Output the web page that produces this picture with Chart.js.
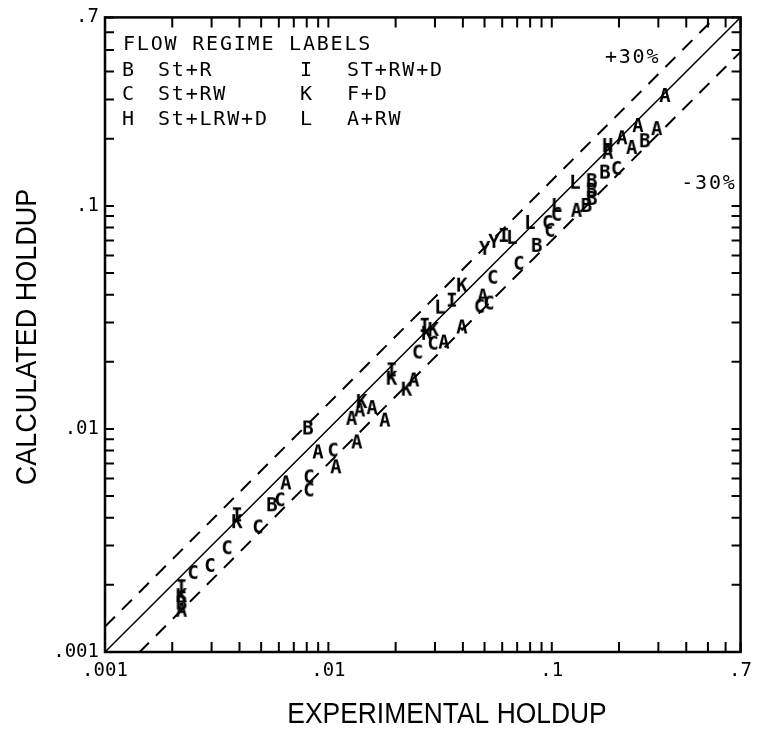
<!DOCTYPE html>
<html>
<head>
<meta charset="utf-8">
<script src="https://cdn.jsdelivr.net/npm/chart.js@4"></script>
<style>
  html, body { margin: 0; padding: 0; background: #fff; }
  #wrap { width: 760px; height: 734px; }
</style>
</head>
<body>
<div id="wrap"><canvas id="holdup"></canvas></div>
<script>
// measured holdup vs. model holdup, one series per flow-regime letter
const aX = [0.0022, 0.00645, 0.00898, 0.0108, 0.0134, 0.0127, 0.0138, 0.0157, 0.0179, 0.0241, 0.0329, 0.0396, 0.0491, 0.129, 0.178, 0.206, 0.228, 0.243, 0.295, 0.321];
const aY = [0.00153, 0.0057, 0.00785, 0.00673, 0.0087, 0.0111, 0.0121, 0.0124, 0.0109, 0.0165, 0.0244, 0.0285, 0.0392, 0.095, 0.173, 0.201, 0.182, 0.228, 0.221, 0.311];

const bX = [0.0022, 0.00559, 0.0081, 0.0857, 0.143, 0.151, 0.151, 0.151, 0.173, 0.261];
const bY = [0.00165, 0.00455, 0.01005, 0.0662, 0.100, 0.129, 0.117, 0.1075, 0.141, 0.195];

const cX = [0.00248, 0.00295, 0.00352, 0.00484, 0.00607, 0.00818, 0.00818, 0.0105, 0.0251, 0.0294, 0.0475, 0.0523, 0.0544, 0.0712, 0.098, 0.0959, 0.105, 0.195];
const cY = [0.00226, 0.00243, 0.00292, 0.00362, 0.00479, 0.00607, 0.0053, 0.0080, 0.0220, 0.0241, 0.0353, 0.0365, 0.0476, 0.0550, 0.0773, 0.0839, 0.0912, 0.1465];

const hX = [0.178];
const hY = [0.1855];

const iX = [0.0022, 0.0039, 0.0192, 0.027, 0.0357, 0.061];
const iY = [0.00195, 0.0041, 0.0183, 0.029, 0.0376, 0.0734];

const kX = [0.0022, 0.0039, 0.0141, 0.0192, 0.0224, 0.0276, 0.0295, 0.0396];
const kY = [0.00178, 0.00382, 0.0132, 0.0168, 0.0150, 0.0267, 0.0278, 0.0439];

const lX = [0.0316, 0.0662, 0.0798, 0.105, 0.127];
const lY = [0.035, 0.0719, 0.0839, 0.100, 0.127];

const yX = [0.0501, 0.0551];
const yY = [0.0642, 0.069];

// parity line and the +/-30% band
const lineX = [0.001, 0.7];
const bandUp = 1.3;
const bandDown = 0.7;

const tickValues = [
  0.001, 0.002, 0.003, 0.004, 0.005, 0.006, 0.007, 0.008, 0.009,
  0.01, 0.02, 0.03, 0.04, 0.05, 0.06, 0.07, 0.08, 0.09,
  0.1, 0.2, 0.3, 0.4, 0.5, 0.6, 0.7
];
const tickLabels = { 0.001: '.001', 0.01: '.01', 0.1: '.1', 0.7: '.7' };

const xTitle = 'EXPERIMENTAL HOLDUP';
const yTitle = 'CALCULATED HOLDUP';

const legendTitle = 'FLOW REGIME LABELS';
const legendRows = [
  ['B', 'St+R', 'I', 'ST+RW+D'],
  ['C', 'St+RW', 'K', 'F+D'],
  ['H', 'St+LRW+D', 'L', 'A+RW']
];

const monoFont = "'DejaVu Sans Mono', monospace";
const titleFont = "'Liberation Sans', sans-serif";

function letterMark(ch) {
  const c = document.createElement('canvas');
  c.width = 18;
  c.height = 22;
  const g = c.getContext('2d');
  g.font = 'bold 19px ' + monoFont;
  g.fillStyle = '#000';
  g.textAlign = 'center';
  g.textBaseline = 'middle';
  g.fillText(ch, 9, 12);
  return c;
}

function pts(xs, ys) {
  return xs.map((x, i) => ({ x: x, y: ys[i] }));
}

function letterSet(ch, xs, ys) {
  return {
    type: 'scatter',
    label: ch,
    data: pts(xs, ys),
    pointStyle: letterMark(ch),
    pointRadius: 6,
    pointHoverRadius: 6
  };
}

function refLine(k, dashed) {
  return {
    type: 'line',
    label: 'y=' + k + 'x',
    data: lineX.map(x => ({ x: x, y: x * k })),
    borderColor: '#000',
    borderWidth: dashed ? 2 : 1.5,
    borderDash: dashed ? [14, 10] : [],
    pointRadius: 0,
    fill: false
  };
}

function labelFor(v) {
  for (const k in tickLabels) {
    if (Math.abs(v - k) / k < 1e-6) return tickLabels[k];
  }
  return '';
}

// squeezed text, the plotter lettering is narrower than the system fonts
function narrowText(ctx, text, x, y, rot, sx) {
  ctx.save();
  ctx.translate(x, y);
  ctx.rotate(rot);
  ctx.scale(sx, 1);
  ctx.fillText(text, 0, 0);
  ctx.restore();
}

// frame plus inward tick marks on all four sides, and the text block
const framePlugin = {
  id: 'frame',
  afterDraw(chart) {
    const ctx = chart.ctx;
    const a = chart.chartArea;
    const xs = chart.scales.x;
    const ys = chart.scales.y;
    ctx.save();
    ctx.strokeStyle = '#000';
    ctx.lineWidth = 2.5;
    ctx.strokeRect(a.left, a.top, a.right - a.left, a.bottom - a.top);
    ctx.lineWidth = 2;
    ctx.beginPath();
    tickValues.forEach(v => {
      const px = xs.getPixelForValue(v);
      ctx.moveTo(px, a.bottom); ctx.lineTo(px, a.bottom - 10);
      ctx.moveTo(px, a.top); ctx.lineTo(px, a.top + 10);
      const py = ys.getPixelForValue(v);
      ctx.moveTo(a.left, py); ctx.lineTo(a.left + 9, py);
      ctx.moveTo(a.right, py); ctx.lineTo(a.right - 9, py);
    });
    ctx.stroke();

    ctx.fillStyle = '#000';
    ctx.textBaseline = 'middle';
    ctx.textAlign = 'left';
    ctx.font = '20px ' + monoFont;
    ctx.letterSpacing = '1.8px';
    ctx.fillText(legendTitle, a.left + 18, a.top + 27);
    legendRows.forEach((r, i) => {
      const y = a.top + 53 + i * 24.5;
      ctx.fillText(r[0], a.left + 17, y);
      ctx.fillText(r[1], a.left + 53, y);
      ctx.fillText(r[2], a.left + 195, y);
      ctx.fillText(r[3], a.left + 242, y);
    });

    ctx.textAlign = 'center';
    ctx.fillText('+30%', xs.getPixelForValue(0.230), ys.getPixelForValue(0.459));
    ctx.fillText('-30%', xs.getPixelForValue(0.505), ys.getPixelForValue(0.1254));
    ctx.letterSpacing = '0px';

    ctx.font = '30px ' + titleFont;
    narrowText(ctx, xTitle, 447, 715, 0, 0.88);
    narrowText(ctx, yTitle, 28, 337, -Math.PI / 2, 0.9);
    ctx.restore();
  }
};

const axisTick = {
  color: '#000',
  autoSkip: false,
  maxRotation: 0,
  font: { family: monoFont, size: 19 },
  callback: (v) => labelFor(v)
};

new Chart(document.getElementById('holdup'), {
  data: {
    datasets: [
      refLine(1, false),
      refLine(bandUp, true),
      refLine(bandDown, true),
      letterSet('A', aX, aY),
      letterSet('B', bX, bY),
      letterSet('C', cX, cY),
      letterSet('H', hX, hY),
      letterSet('I', iX, iY),
      letterSet('K', kX, kY),
      letterSet('L', lX, lY),
      letterSet('Y', yX, yY)
    ]
  },
  options: {
    responsive: true,
    maintainAspectRatio: false,
    animation: false,
    layout: { padding: { top: 15, right: 19, left: 0, bottom: 0 } },
    plugins: { legend: { display: false }, tooltip: { enabled: false } },
    scales: {
      x: {
        type: 'logarithmic',
        min: 0.001,
        max: 0.7,
        afterBuildTicks: s => { s.ticks = tickValues.map(v => ({ value: v })); },
        afterFit: s => { s.height = 82; },
        grid: { display: false, drawTicks: false },
        border: { display: false },
        ticks: Object.assign({ padding: 8 }, axisTick)
      },
      y: {
        type: 'logarithmic',
        min: 0.001,
        max: 0.7,
        afterBuildTicks: s => { s.ticks = tickValues.map(v => ({ value: v })); },
        afterFit: s => { s.width = 105; },
        grid: { display: false, drawTicks: false },
        border: { display: false },
        ticks: Object.assign({ padding: 6 }, axisTick)
      }
    }
  },
  plugins: [framePlugin]
});
</script>
</body>
</html>
